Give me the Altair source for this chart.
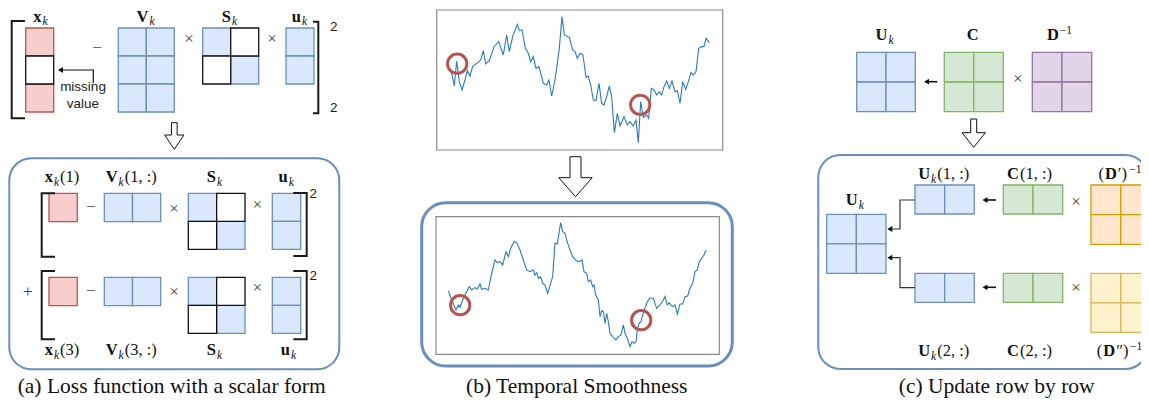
import altair as alt
import pandas as pd

# ---------------- values ----------------
captions = ["(a) Loss function with a scalar form", "(b) Temporal Smoothness", "(c) Update row by row"]
caption_x = [171.7, 576.7, 996.7]

# raw (noisy) series of panel (b): time index and level
raw_time = [90, 97, 103, 110, 118, 126, 135, 142, 150, 158, 170, 182, 190, 197, 208, 222, 236, 250, 260, 268,
            278, 292, 298, 306, 316, 325, 332, 340, 348, 357, 370, 380, 387, 395, 405, 418, 426, 433, 448, 458,
            465, 472, 480, 489, 498, 505, 512, 520, 528, 537, 545, 552, 560, 568, 575, 583, 592, 600, 612, 622,
            630, 640, 648, 655, 662, 670, 680, 686, 694, 702, 710, 718, 725, 732, 740, 748, 756, 765, 772, 780,
            788, 797, 805, 813, 820, 828, 836, 845, 852, 858, 868]
raw_value = [245, 222, 192, 267, 205, 180, 210, 238, 222, 250, 260, 270, 298, 258, 268, 310, 325, 285, 345, 295,
             340, 377, 358, 360, 305, 290, 265, 280, 245, 250, 200, 195, 210, 162, 210, 305, 400, 345, 338, 300,
             295, 275, 290, 285, 218, 222, 195, 150, 148, 200, 140, 135, 160, 192, 160, 52, 110, 72, 100, 75,
             85, 72, 90, 22, 145, 98, 105, 95, 185, 180, 165, 175, 165, 190, 207, 185, 207, 175, 178, 140,
             205, 182, 205, 232, 225, 235, 305, 310, 310, 335, 322]

# smoothed series of panel (b)
smooth_time = [85, 95, 108, 115, 120, 128, 135, 148, 155, 165, 172, 180, 185, 195, 205, 215, 225, 232, 240, 248,
               258, 265, 272, 282, 290, 300, 310, 320, 330, 340, 345, 350, 355, 362, 368, 375, 383, 392, 398, 405,
               412, 422, 428, 435, 440, 448, 458, 468, 478, 486, 492, 500, 505, 512, 518, 522, 527, 535, 540, 545,
               550, 555, 560, 565, 570, 578, 588, 595, 603, 610, 615, 622, 630, 636, 642, 648, 652, 657, 663, 668,
               675, 680, 688, 700, 710, 720, 730, 735, 742, 748, 752, 758, 765, 772, 780, 788, 795, 803, 810, 818,
               825, 832, 838, 845, 852, 858]
smooth_value = [191, 163, 133, 148, 141, 163, 178, 203, 193, 200, 196, 211, 195, 198, 193, 243, 283, 275, 278, 268,
                308, 293, 318, 338, 335, 313, 283, 253, 248, 253, 238, 245, 228, 233, 213, 208, 183, 213, 233, 333,
                331, 395, 368, 363, 343, 318, 293, 281, 278, 283, 248, 243, 218, 223, 203, 208, 178, 163, 113, 131,
                128, 93, 123, 98, 63, 53, 43, 53, 58, 88, 63, 48, 23, 38, 33, 38, 73, 93, 98, 118,
                138, 153, 168, 168, 138, 148, 163, 173, 148, 155, 148, 143, 148, 121, 151, 151, 173, 175, 198, 213,
                248, 253, 278, 288, 298, 313]

# ---------------- canvas (page margin 8px, so the drawable area is 8..1141 x 8..399) ----------------
X0, X1 = 8, 1141
Y0, Y1 = 8, 399
W, H = X1 - X0, Y1 - Y0
XS = alt.Scale(domain=[X0, X1], nice=False, zero=False)
YS = alt.Scale(domain=[Y0, Y1], nice=False, zero=False, reverse=True)


def px(f="x"):
    return alt.X(f, type="quantitative", scale=XS, axis=None)


def py(f="y"):
    return alt.Y(f, type="quantitative", scale=YS, axis=None)


PAL = {
    "blue": ("#dae8fc", "#6c8ebf"),
    "red": ("#f8cecc", "#b85450"),
    "green": ("#d5e8d4", "#82b366"),
    "purple": ("#e1d5e7", "#9673a6"),
    "orange": ("#ffe6cc", "#d79b00"),
    "yellow": ("#fff2cc", "#d6b656"),
    "empty": ("#ffffff", "#111111"),
}

cells = []


def matrix(x0, y0, x1, y1, rows, cols, kinds):
    cw = (x1 - x0) / cols
    ch = (y1 - y0) / rows
    for r in range(rows):
        for c in range(cols):
            k = kinds if isinstance(kinds, str) else kinds[r * cols + c]
            fill, stroke = PAL[k]
            cells.append(dict(x=x0 + c * cw, x2=x0 + (c + 1) * cw, y=y0 + r * ch, y2=y0 + (r + 1) * ch,
                              fill=fill, stroke=stroke, w=1.3, z=1 if k == "empty" else 0))


S_PAT = ["blue", "empty", "empty", "blue"]
# panel (a) top
matrix(25.7, 28, 53.7, 112, 3, 1, ["red", "empty", "red"])
matrix(118.3, 28, 174.3, 112, 3, 2, "blue")
matrix(202.7, 28, 258.7, 84, 2, 2, S_PAT)
matrix(286, 28, 314, 84, 2, 1, "blue")
# panel (a) rows
for dy in (0, 84):
    matrix(49, 193.3 + dy, 77.3, 221.7 + dy, 1, 1, "red")
    matrix(104.3, 193.3 + dy, 160.7, 221.7 + dy, 1, 2, "blue")
    matrix(188.3, 193.3 + dy, 245, 249.3 + dy, 2, 2, S_PAT)
    matrix(272.3, 193.3 + dy, 300.7, 249.3 + dy, 2, 1, "blue")
# panel (c) top
matrix(856.7, 52.3, 915.3, 111.7, 2, 2, "blue")
matrix(944.3, 52.3, 1003.3, 111.7, 2, 2, "green")
matrix(1032.3, 52.3, 1091.7, 111.7, 2, 2, "purple")
# panel (c) bottom
matrix(826.7, 214.3, 886, 273.3, 2, 2, "blue")
matrix(915, 185, 974.3, 214, 1, 2, "blue")
matrix(915, 273.3, 974.3, 302.3, 1, 2, "blue")
matrix(1003.3, 185, 1062.7, 214, 1, 2, "green")
matrix(1003.3, 273.3, 1062.7, 302.3, 1, 2, "green")
matrix(1091, 185, 1150.5, 244.3, 2, 2, "orange")
matrix(1091, 273.3, 1150.5, 332.3, 2, 2, "yellow")
cells_df = pd.DataFrame(cells).sort_values("z", kind="stable")

# ---------------- polylines ----------------
lines = []


def poly(name, pts, col="#111111", w=1.0):
    for i, (a, b) in enumerate(pts):
        lines.append(dict(id=name, seq=i, x=a, y=b, col=col, w=w))


def bracket(name, xa, xb, ya, yb):
    poly(name, [(xb, ya), (xa, ya), (xa, yb), (xb, yb)], "#1a1a1a", 2.0)


def hollow(name, cx, sw, top, hy, hw, tip):
    pts = [(cx - sw / 2, top), (cx + sw / 2, top), (cx + sw / 2, hy), (cx + hw / 2, hy), (cx, tip),
           (cx - hw / 2, hy), (cx - sw / 2, hy), (cx - sw / 2, top)]
    poly(name, pts, "#111111", 1.0)


bracket("a_l", 11.7, 25, 21, 118.3)
bracket("a_r", 318.3, 313, 21.7, 113.3)
bracket("r1_l", 41.7, 55, 193.3, 256.7)
bracket("r1_r", 306.7, 293.3, 193, 256)
bracket("r2_l", 41.7, 55, 271, 339.3)
bracket("r2_r", 306.7, 293.3, 271, 339.3)
poly("miss", [(93.3, 83), (93.3, 70), (60, 70)], "#111111", 1.2)
hollow("ha", 174.3, 5.7, 122.7, 135, 19.3, 149.3)
hollow("hb", 575.5, 11, 156.7, 177.7, 33.4, 196.7)
hollow("hc", 973.7, 6, 119, 132.7, 23.3, 147.3)
poly("s1", [(937.3, 81.7), (926, 81.7)], "#111111", 1.6)
poly("s2", [(996, 200), (984.5, 200)], "#111111", 1.6)
poly("s3", [(996, 287.3), (984.5, 287.3)], "#111111", 1.6)
poly("c1", [(915, 200), (900, 200), (900, 229), (890, 229)], "#333333", 1.2)
poly("c2", [(915, 287.7), (900, 287.7), (900, 257.7), (890, 257.7)], "#333333", 1.2)
lines_df = pd.DataFrame(lines)

heads_df = pd.DataFrame(dict(x=[60.5, 926.5, 985, 985, 889.8, 889.8],
                             y=[70, 81.7, 200, 287.3, 229, 257.7]))

# ---------------- series ----------------
ser = []
for t, v in zip(raw_time, raw_value):
    ser.append(dict(s="raw", x=420 + t / 3, y=150 - v / 3))
for t, v in zip(smooth_time, smooth_value):
    ser.append(dict(s="smooth", x=420 + t / 3, y=354.3 - v / 3))
ser_df = pd.DataFrame(ser)
circ_df = pd.DataFrame(dict(x=[457.2, 640.2, 460.2, 641.2], y=[63.7, 104.8, 305.2, 320.2]))

# ---------------- math labels ----------------
MAIN, SMALL = 16.5, 11.5
W_B = {"x": .5, "V": .722, "S": .556, "u": .556, "U": .722, "C": .722, "D": .722}
W_R = {"(": .333, ")": .333, "1": .5, "2": .5, "3": .5, ",": .25, ":": .278, " ": .25, "′": .3, "″": .45}
W_I = {"k": .444}
W_S = {"−": .564, "1": .5}


def seg_w(text, kind):
    if kind == "B":
        return sum(W_B[c] for c in text) * MAIN
    if kind == "R":
        return sum(W_R[c] for c in text) * MAIN
    if kind == "I":
        return sum(W_I[c] for c in text) * SMALL
    return sum(W_S[c] for c in text) * SMALL


segs = {"B": [], "R": [], "I": [], "S": []}


def label(cx, base, parts):
    widths = [seg_w(t, k) + 1.0 for t, k in parts]
    x = cx - sum(widths) / 2
    for (t, k), w in zip(parts, widths):
        dy = 3.5 if k == "I" else (-6.5 if k == "S" else 0)
        segs[k].append(dict(x=x, y=base + dy, t=t))
        x += w


XK = [("x", "B"), ("k", "I")]
VK = [("V", "B"), ("k", "I")]
SK = [("S", "B"), ("k", "I")]
UK = [("u", "B"), ("k", "I")]
label(41, 21.5, XK)
label(146, 21.5, VK)
label(230, 21.5, SK)
label(300, 21.5, UK)
label(62.5, 182, XK + [("(1)", "R")])
label(131.7, 182, VK + [("(1, :)", "R")])
label(215, 182, SK)
label(286.7, 182, UK)
label(62.5, 355, XK + [("(3)", "R")])
label(131.7, 355, VK + [("(3, :)", "R")])
label(215, 355, SK)
label(289, 355, UK)
label(885, 40, [("U", "B"), ("k", "I")])
label(973.3, 40, [("C", "B")])
label(1060, 40, [("D", "B"), ("−1", "S")])
label(855.3, 205, [("U", "B"), ("k", "I")])
label(944.2, 179.3, [("U", "B"), ("k", "I"), ("(1, :)", "R")])
label(1030, 179.3, [("C", "B"), ("(1, :)", "R")])
label(1120.5, 179.3, [("(", "R"), ("D", "B"), ("′)", "R"), ("−1", "S")])
label(944.2, 356, [("U", "B"), ("k", "I"), ("(2, :)", "R")])
label(1030, 356, [("C", "B"), ("(2, :)", "R")])
label(1120, 356, [("(", "R"), ("D", "B"), ("″)", "R"), ("−1", "S")])

ops_df = pd.DataFrame(dict(
    t=["−", "×", "×", "−", "×", "×", "+", "−", "×", "×", "×", "×", "×"],
    x=[97, 189, 272, 90.7, 174, 257.3, 27.7, 90.7, 174, 257.3, 1017.7, 1076, 1076],
    y=[48, 39, 39, 206.7, 209.3, 205, 292.3, 290.7, 292.3, 288.3, 79, 201.7, 288.3]))
sans_df = pd.DataFrame(dict(t=["missing", "value", "2", "2", "2", "2"],
                            x=[83, 83, 333.7, 333.7, 313.3, 313.3],
                            y=[91, 108, 30.5, 111.5, 197.5, 280]))
cap_df = pd.DataFrame(dict(t=captions, x=caption_x, y=[393] * 3))

# ---------------- layers ----------------
box_a = pd.DataFrame(dict(x=[9.3], x2=[339.3], y=[158.3], y2=[369.3]))
box_b = pd.DataFrame(dict(x=[421.7], x2=[732.3], y=[202.7], y2=[366]))
box_c = pd.DataFrame(dict(x=[818.3], x2=[1147.5], y=[155], y2=[369]))
plots = pd.DataFrame(dict(x=[436.7, 436], x2=[722.7, 719.3], y=[10, 216.7], y2=[150, 354.3]))


def rect_layer(df, **kw):
    return alt.Chart(df).mark_rect(**kw).encode(x=px("x"), x2=alt.X2("x2"), y=py("y"), y2=alt.Y2("y2"))


layers = [
    rect_layer(box_a, cornerRadius=22, fillOpacity=0, stroke="#6c8ebf", strokeWidth=2),
    rect_layer(box_b, cornerRadius=24, fillOpacity=0, stroke="#6c8ebf", strokeWidth=3),
    rect_layer(box_c, cornerRadius=22, fillOpacity=0, stroke="#6c8ebf", strokeWidth=2),
    rect_layer(plots, fillOpacity=0, stroke="#8a8a8a", strokeWidth=1.2),
    alt.Chart(cells_df).mark_rect().encode(
        x=px("x"), x2=alt.X2("x2"), y=py("y"), y2=alt.Y2("y2"),
        fill=alt.Fill("fill:N", scale=None), stroke=alt.Stroke("stroke:N", scale=None),
        strokeWidth=alt.StrokeWidth("w:Q", scale=None), order=alt.Order("z:Q")),
    alt.Chart(lines_df).mark_line(strokeJoin="miter", strokeCap="butt").encode(
        x=px("x"), y=py("y"), detail="id:N", order=alt.Order("seq:Q"),
        color=alt.Color("col:N", scale=None), strokeWidth=alt.StrokeWidth("w:Q", scale=None)),
    alt.Chart(ser_df).mark_line(color="#2b7bba", strokeWidth=1.1).encode(
        x=px("x"), y=py("y"), detail="s:N"),
    alt.Chart(circ_df).mark_point(shape="circle", filled=False, size=372, strokeWidth=3,
                                  color="#b85450", opacity=1).encode(x=px("x"), y=py("y")),
    alt.Chart(heads_df).mark_point(shape="triangle-left", filled=True, size=34, color="#111111",
                                   opacity=1).encode(x=px("x"), y=py("y")),
]

text_styles = {
    "B": dict(font="Liberation Serif", fontWeight="bold", fontSize=MAIN),
    "R": dict(font="Liberation Serif", fontSize=MAIN),
    "I": dict(font="Liberation Serif", fontStyle="italic", fontSize=SMALL),
    "S": dict(font="Liberation Serif", fontSize=SMALL),
}
for k, st in text_styles.items():
    layers.append(alt.Chart(pd.DataFrame(segs[k])).mark_text(
        align="left", baseline="alphabetic", color="#111111", **st).encode(
        x=px("x"), y=py("y"), text="t:N"))

layers.append(alt.Chart(ops_df).mark_text(font="Liberation Serif", fontSize=17, color="#444444",
                                          baseline="middle").encode(x=px("x"), y=py("y"), text="t:N"))
layers.append(alt.Chart(sans_df).mark_text(font="Liberation Sans", fontSize=13.5, color="#222222",
                                           baseline="alphabetic").encode(x=px("x"), y=py("y"), text="t:N"))
layers.append(alt.Chart(cap_df).mark_text(font="Liberation Serif", fontSize=21.5, color="#111111",
                                          baseline="alphabetic").encode(x=px("x"), y=py("y"), text="t:N"))

chart = alt.layer(*layers).properties(
    width=W, height=H, padding=0, autosize=alt.AutoSizeParams(type="none"), background="white"
).configure_view(stroke=None)

chart.save("out.html", embed_options={"renderer": "svg", "actions": False})
